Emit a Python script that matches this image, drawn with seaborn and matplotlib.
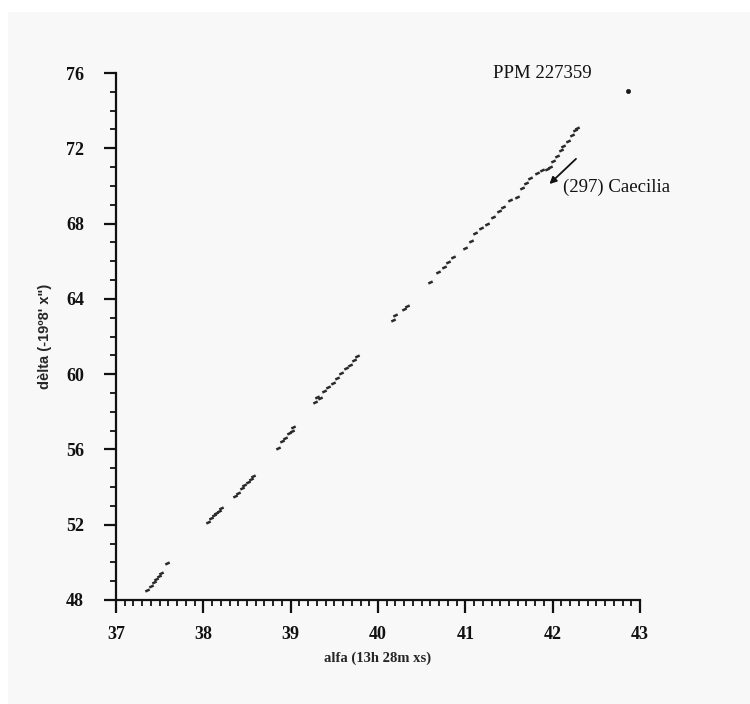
import matplotlib
matplotlib.use("Agg")
import matplotlib.pyplot as plt
import seaborn as sns
import pandas as pd
from matplotlib.markers import MarkerStyle
from matplotlib.transforms import Affine2D
from matplotlib.patches import Rectangle
from matplotlib.ticker import MultipleLocator

# Observed positions of (297) Caecilia, one entry per plate measurement
alfa = [37.36, 37.40, 37.43, 37.46, 37.49, 37.52, 37.58,
        38.05, 38.09, 38.12, 38.15, 38.18, 38.20,
        38.36, 38.40, 38.44, 38.47, 38.51, 38.55, 38.57,
        38.86, 38.90, 38.94, 38.98, 39.01, 39.03,
        39.28, 39.30, 39.34, 39.38, 39.43, 39.48, 39.53, 39.58, 39.63, 39.68, 39.73, 39.76,
        40.17, 40.20, 40.30, 40.33,
        40.60, 40.69, 40.75, 40.80, 40.86, 41.00, 41.06, 41.11, 41.18, 41.25,
        41.32, 41.38, 41.43, 41.51, 41.59, 41.65, 41.70, 41.74, 41.82, 41.88,
        41.93, 41.97, 42.00, 42.05, 42.09, 42.12, 42.17, 42.22, 42.26, 42.28]
delta = [48.55, 48.75, 48.95, 49.10, 49.25, 49.45, 49.95,
         52.15, 52.35, 52.50, 52.60, 52.75, 52.90,
         53.55, 53.70, 53.95, 54.10, 54.25, 54.45, 54.60,
         56.10, 56.45, 56.60, 56.85, 57.00, 57.20,
         58.50, 58.80, 58.75, 59.10, 59.30, 59.55, 59.80, 60.05, 60.30, 60.50, 60.75, 60.95,
         62.90, 63.15, 63.45, 63.60,
         64.90, 65.43, 65.70, 65.95, 66.20, 66.70, 67.10, 67.50, 67.75, 68.00,
         68.35, 68.65, 68.90, 69.25, 69.40, 69.90, 70.15, 70.40, 70.70, 70.85,
         70.90, 71.00, 71.30, 71.60, 71.90, 72.10, 72.40, 72.70, 72.95, 73.10]

# Reference star
star_alfa = [42.86]
star_delta = [75.05]

x_ticks = [37, 38, 39, 40, 41, 42, 43]
y_ticks = [48, 52, 56, 60, 64, 68, 72, 76]

df = pd.DataFrame({"alfa": alfa, "delta": delta})
stars = pd.DataFrame({"alfa": star_alfa, "delta": star_delta})

sns.set_style("white")
plt.rcParams["font.family"] = ["Liberation Serif", "DejaVu Serif"]

fig = plt.figure(figsize=(7.5, 7.04), dpi=100, facecolor="white")
fig.patches.append(Rectangle((8 / 750, 0), 1, 692 / 704, transform=fig.transFigure,
                             facecolor="#f8f8f8", edgecolor="none", zorder=-10))
ax = fig.add_axes([116 / 750, 1 - 600 / 704, 524 / 750, 527 / 704])
ax.set_facecolor("none")

dash = MarkerStyle("_", transform=Affine2D().rotate_deg(25))
sns.scatterplot(data=df, x="alfa", y="delta", ax=ax, marker=dash, s=12,
                color="#2a2a2a", linewidth=1.8, legend=False)
sns.scatterplot(data=stars, x="alfa", y="delta", ax=ax, marker="o", s=9,
                color="#1a1a1a", edgecolor="#1a1a1a", linewidth=0.5, legend=False)

ax.set_xlim(37, 43)
ax.set_ylim(48, 76)
ax.set_xticks(x_ticks)
ax.set_yticks(y_ticks)
ax.xaxis.set_minor_locator(MultipleLocator(0.1))
ax.yaxis.set_minor_locator(MultipleLocator(1))

for side in ["top", "right"]:
    ax.spines[side].set_visible(False)
for side in ["left", "bottom"]:
    ax.spines[side].set_linewidth(1.6)
    ax.spines[side].set_color("#111111")

ax.tick_params(which="both", bottom=True, left=True, top=False, right=False)
ax.tick_params(which="major", direction="out", length=9, width=1.6, color="#111111",
               labelsize=13, labelcolor="#111111")
ax.tick_params(which="minor", direction="out", length=4, width=1.3, color="#111111")
ax.tick_params(axis="x", which="major", pad=10)
ax.tick_params(axis="y", which="major", pad=14)
for lab in ax.get_xticklabels() + ax.get_yticklabels():
    lab.set_fontweight("bold")

ax.set_xlabel("alfa (13h 28m xs)", fontsize=10.5, fontweight="bold",
              family=["Liberation Serif", "DejaVu Serif"], labelpad=6)
ax.set_ylabel("dèlta (-19º8' x\")", fontsize=10.5, fontweight="bold",
              family=["Liberation Sans", "DejaVu Sans"], labelpad=10)

ax.text(41.32, 76.0, "PPM 227359", fontsize=13.5, va="center", ha="left",
        color="#111111", clip_on=False)
ax.annotate("", xy=(41.94, 70.0), xytext=(42.29, 71.54),
            arrowprops=dict(arrowstyle="-|>", color="#111111", lw=1.3,
                            mutation_scale=10), annotation_clip=False)
ax.text(42.12, 69.95, "(297) Caecilia", fontsize=13.5, va="center", ha="left",
        color="#111111", clip_on=False)

fig.savefig("out.png", dpi=100, facecolor=fig.get_facecolor())
